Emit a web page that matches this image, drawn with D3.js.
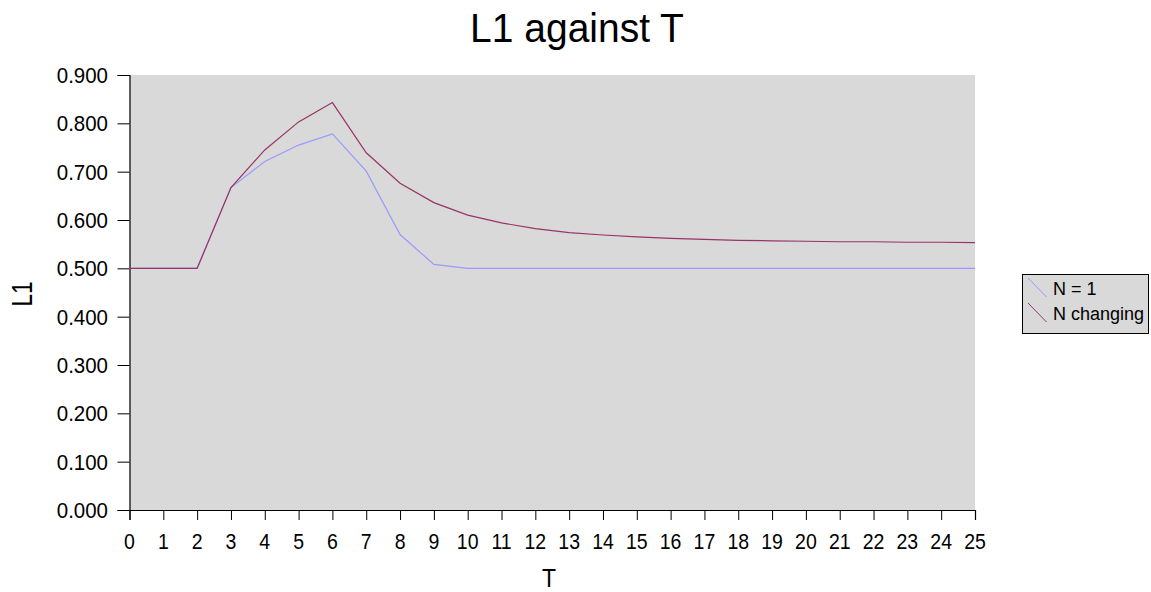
<!DOCTYPE html>
<html>
<head>
<meta charset="utf-8">
<script src="https://cdn.jsdelivr.net/npm/d3@7"></script>
<style>
  html, body { margin: 0; padding: 0; background: #ffffff; }
  svg { display: block; font-family: "Liberation Sans", Arial, sans-serif; }
</style>
</head>
<body>
<svg id="chart" width="1151" height="592"></svg>
<script>
// Time steps
const tValues = d3.range(0, 26);
// L1 with N fixed at 1
const seriesN1 = [0.500, 0.500, 0.500, 0.667, 0.721, 0.755, 0.778, 0.701, 0.570, 0.508,
                  0.500, 0.500, 0.500, 0.500, 0.500, 0.500, 0.500, 0.500, 0.500, 0.500,
                  0.500, 0.500, 0.500, 0.500, 0.500, 0.500];
// L1 with N changing
const seriesNChanging = [0.500, 0.500, 0.500, 0.667, 0.745, 0.803, 0.843, 0.739, 0.676, 0.636,
                         0.610, 0.594, 0.582, 0.574, 0.569, 0.565, 0.562, 0.560, 0.558, 0.557,
                         0.556, 0.555, 0.555, 0.554, 0.554, 0.553];
const yTicks = [0, 0.1, 0.2, 0.3, 0.4, 0.5, 0.6, 0.7, 0.8, 0.9];
const seriesNames = ["N = 1", "N changing"];
const seriesColors = ["#9999ff", "#993366"];

const svg = d3.select("#chart");
const plot = { left: 129.5, right: 975, top: 75, bottom: 510 };

const x = d3.scaleLinear().domain([0, 25]).range([plot.left, plot.right]);
const y = d3.scaleLinear().domain([0, 0.9]).range([plot.bottom, plot.top]);

// Text helper: glyphs are drawn slightly taller than wide
function label(parent, str, px, py, size, stretch, anchor, rotate) {
  const rot = rotate ? ` rotate(${rotate})` : "";
  return parent.append("text")
    .attr("transform", `translate(${px},${py})${rot} scale(1,${stretch})`)
    .attr("text-anchor", anchor)
    .attr("font-size", size)
    .attr("fill", "#000")
    .text(str);
}

// Plot area background
svg.append("rect")
  .attr("x", plot.left).attr("y", plot.top)
  .attr("width", plot.right - plot.left).attr("height", plot.bottom - plot.top)
  .attr("fill", "#d9d9d9");

// Y axis
const yAxis = svg.append("g")
  .attr("transform", `translate(${plot.left},0)`)
  .call(d3.axisLeft(y).tickValues(yTicks).tickFormat("").tickSize(12));
yAxis.select(".domain").attr("stroke", "#000").attr("stroke-width", 1.2);
yAxis.selectAll(".tick line").attr("stroke", "#000");
const fmtY = d3.format(".3f");
yTicks.forEach(v => label(svg, fmtY(v), 108, y(v) + 8, 20.5, 1.06, "end"));

// X axis
const xAxis = svg.append("g")
  .attr("transform", `translate(0,${plot.bottom})`)
  .call(d3.axisBottom(x).tickValues(tValues).tickFormat("").tickSize(10));
xAxis.select(".domain").attr("stroke", "#000").attr("stroke-width", 1.2);
xAxis.selectAll(".tick line").attr("stroke", "#000");
tValues.forEach(v => label(svg, String(v), x(v), 549, 19.5, 1.1, "middle"));

// Lines
const line = d3.line().x((d, i) => x(tValues[i])).y(d => y(d));
[seriesN1, seriesNChanging].forEach((s, k) => {
  svg.append("path")
    .datum(s)
    .attr("fill", "none")
    .attr("stroke", seriesColors[k])
    .attr("stroke-width", 1.2)
    .attr("d", line);
});

// Titles
label(svg, "L1 against T", 577, 42, 39, 1.03, "middle");
label(svg, "T", 549, 586.5, 23, 1.15, "middle");
label(svg, "L1", 31.5, 294, 22.5, 1.3, "middle", -90);

// Legend
const legend = svg.append("g").attr("transform", "translate(1022,274)");
legend.append("rect")
  .attr("x", 0.5).attr("y", 0.5).attr("width", 126).attr("height", 59)
  .attr("fill", "#d9d9d9").attr("stroke", "#000").attr("stroke-width", 1);
seriesNames.forEach((name, k) => {
  const gy = 4 + k * 25;
  legend.append("line")
    .attr("x1", 6).attr("y1", gy).attr("x2", 24.5).attr("y2", gy + 19)
    .attr("stroke", seriesColors[k]).attr("stroke-width", 1);
  label(legend, name, 31, 21 + k * 25, 18, 1.0, "start");
});
</script>
</body>
</html>
